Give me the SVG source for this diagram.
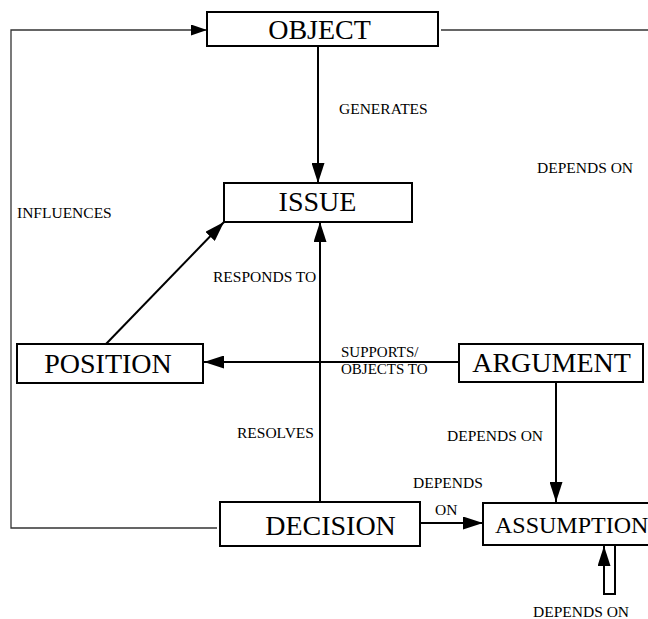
<svg xmlns="http://www.w3.org/2000/svg" width="648" height="619" viewBox="0 0 648 619">
  <style>
    .box { fill: #fff; stroke: #000; stroke-width: 2; }
    .name { font-family: "Liberation Serif", "Times New Roman", serif; font-size: 28px; fill: #000; text-anchor: middle; }
    .lbl { font-family: "Liberation Serif", "Times New Roman", serif; font-size: 15.5px; fill: #000; }
    .edge { fill: none; stroke: #000; stroke-width: 2; }
    .thin { fill: none; stroke: #333; stroke-width: 1.3; }
  </style>
  <defs>
    <marker id="arrow" markerUnits="userSpaceOnUse" markerWidth="20" markerHeight="13" refX="20" refY="6.5" orient="auto">
      <path d="M0,0 L20,6.5 L0,13 z" fill="#000"/>
    </marker>
    <marker id="arrowSmall" markerUnits="userSpaceOnUse" markerWidth="16" markerHeight="11" refX="16" refY="5.5" orient="auto">
      <path d="M0,0 L16,5.5 L0,11 z" fill="#000"/>
    </marker>
  </defs>

  <rect width="648" height="619" fill="#fff"/>

  <g id="connectors">
    <!-- decision influences object (feedback loop round the left side) -->
    <polyline class="thin" points="217,528 11,528 11,30 207,30" marker-end="url(#arrowSmall)"/>
    <!-- object depends on ... (runs off to the right) -->
    <line class="thin" x1="441" y1="30" x2="648" y2="30"/>
    <line class="edge" x1="318" y1="46" x2="318" y2="183" marker-end="url(#arrow)"/>
    <line class="edge" x1="320" y1="501" x2="320" y2="222" marker-end="url(#arrow)"/>
    <line class="edge" x1="106" y1="344" x2="224" y2="222" marker-end="url(#arrow)"/>
    <line class="edge" x1="459" y1="362" x2="204" y2="362" marker-end="url(#arrow)"/>
    <line class="edge" x1="556" y1="383" x2="556" y2="502" marker-end="url(#arrow)"/>
    <line class="edge" x1="420" y1="523" x2="483" y2="523" marker-end="url(#arrow)"/>
    <!-- assumption depends on assumption -->
    <polyline class="edge" points="615,546 615,594 604,594 604,546" marker-end="url(#arrow)"/>

    <text class="lbl" x="339" y="114">GENERATES</text>
    <text class="lbl" x="537" y="173">DEPENDS ON</text>
    <text class="lbl" x="17" y="218">INFLUENCES</text>
    <text class="lbl" x="213" y="282">RESPONDS TO</text>
    <text class="lbl" x="341" y="357" style="font-size:15px">SUPPORTS/</text>
    <text class="lbl" x="341" y="374" style="font-size:15px">OBJECTS TO</text>
    <text class="lbl" x="237" y="438">RESOLVES</text>
    <text class="lbl" x="447" y="441">DEPENDS ON</text>
    <text class="lbl" x="413" y="488">DEPENDS</text>
    <text class="lbl" x="435" y="515">ON</text>
    <text class="lbl" x="533" y="617">DEPENDS ON</text>
  </g>

  <g id="object">
    <rect class="box" x="207" y="12" width="231" height="34"/>
    <text class="name" x="319.5" y="39">OBJECT</text>
  </g>

  <g id="issue">
    <rect class="box" x="224" y="183" width="188" height="39"/>
    <text class="name" x="317.5" y="211">ISSUE</text>
  </g>

  <g id="position">
    <rect class="box" x="17" y="344" width="186" height="39"/>
    <text class="name" x="108" y="373">POSITION</text>
  </g>

  <g id="argument">
    <rect class="box" x="459" y="344" width="184" height="38"/>
    <text class="name" x="551.5" y="372">ARGUMENT</text>
  </g>

  <g id="decision">
    <rect class="box" x="220" y="502" width="200" height="44"/>
    <text class="name" x="330.5" y="535">DECISION</text>
  </g>

  <g id="assumption">
    <rect class="box" x="483" y="503" width="175" height="42"/>
    <text class="name" x="495" y="533" style="font-size:24px;text-anchor:start">ASSUMPTION</text>
  </g>
</svg>
